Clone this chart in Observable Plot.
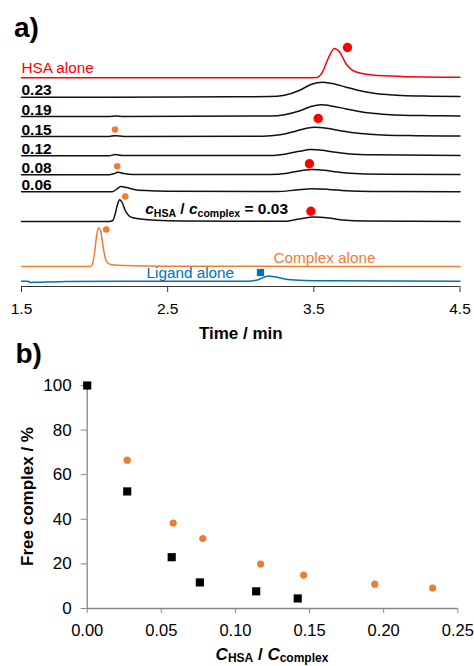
<!DOCTYPE html>
<html><head><meta charset="utf-8">
<script src="https://cdn.jsdelivr.net/npm/d3@7"></script>
<script src="https://cdn.jsdelivr.net/npm/@observablehq/plot@0.6"></script>
<style>
body{margin:0;background:#fff;font-family:"Liberation Sans",Arial,sans-serif;}
#wrap{position:relative;width:474px;height:666px;overflow:hidden;}
#top{position:absolute;left:0;top:0;}
#bottom{position:absolute;left:0;top:340px;}
svg{display:block;}
</style></head><body><div id="wrap"><div id="top"></div><div id="bottom"></div></div>
<script>
// ---------- Panel a) chromatogram data ----------
const timeTicks = [1.5, 2.5, 3.5, 4.5];
const traceNames = ["HSA alone","0.23","0.19","0.15","0.12","0.08","0.06","0.03","Complex alone","Ligand alone"];
const traceOffsets = [208.7, 189.3, 170, 150, 130.7, 111.7, 94.7, 65, 20, 5.3];

const hsaAlone = [[1.5,0],[3.45,0],[3.52,0.4],[3.56,6],[3.6,20],[3.64,29.3],[3.68,25],[3.72,14],[3.76,8],[3.82,4.5],[3.9,2.8],[4.1,1.4],[4.5,0.6]];
const ratio023 = [[1.5,0],[2.6,0.2],[3.2,0.6],[3.3,2],[3.4,6.7],[3.48,12.7],[3.56,15],[3.64,13.3],[3.72,10],[3.8,7],[3.9,4.3],[4.0,2.6],[4.1,1.7],[4.3,1],[4.5,0.6]];
const ratio019 = [[1.5,0],[2.1,0],[2.14,0.5],[2.2,0],[3.2,0.5],[3.3,1.8],[3.4,5.5],[3.48,10],[3.55,11.7],[3.63,10.3],[3.72,7.6],[3.8,5.3],[3.9,3.2],[4.0,2],[4.1,1.3],[4.3,0.8],[4.5,0.5]];
const ratio015 = [[1.5,0],[2.1,0],[2.14,0.8],[2.2,0.1],[3.15,0.3],[3.27,1.8],[3.37,5],[3.45,8.3],[3.51,9.3],[3.59,8.2],[3.68,5.8],[3.77,3.7],[3.88,2.2],[4.0,1.3],[4.2,0.8],[4.5,0.4]];
const ratio012 = [[1.5,0],[2.1,0],[2.14,1.3],[2.19,0.3],[3.2,0.3],[3.3,1.6],[3.4,4.5],[3.48,6.3],[3.56,5.5],[3.65,3.5],[3.75,1.9],[3.9,1],[4.5,0.3]];
const ratio008 = [[1.5,0],[2.1,0],[2.13,1],[2.16,2.6],[2.2,1.3],[2.26,0.4],[3.2,0.3],[3.32,1.6],[3.42,4.3],[3.49,5.3],[3.57,4.6],[3.66,2.8],[3.78,1.3],[3.95,0.6],[4.5,0.2]];
const ratio006 = [[1.5,0],[2.12,0],[2.15,2.5],[2.18,5.3],[2.22,4.2],[2.27,2.4],[2.35,1.2],[2.5,0.5],[3.25,0.3],[3.38,1.8],[3.49,3],[3.6,2.4],[3.72,1.1],[3.9,0.4],[4.5,0.1]];
const ratio003 = [[1.5,0],[2.1,0],[2.125,1],[2.14,7],[2.155,16],[2.172,21.7],[2.19,18.5],[2.21,11],[2.235,5.8],[2.27,3.4],[2.33,2.3],[2.42,1.3],[2.6,0.5],[3.3,0.3],[3.4,2.5],[3.5,4.5],[3.6,3.5],[3.7,1.5],[3.85,0.5],[4.5,0]];
const complexAlone = [[1.5,0],[1.97,0],[1.985,2],[2.0,14],[2.015,32],[2.03,38.7],[2.045,33],[2.06,18],[2.075,7.5],[2.09,3.5],[2.12,1.8],[2.2,0.9],[2.5,0.3],[4.5,0]];
const ligandAlone = [[1.5,0],[1.545,0],[1.56,-1.3],[1.6,-1],[1.8,-0.4],[2.2,0],[3.05,0],[3.12,1.5],[3.19,5.3],[3.24,4.2],[3.3,2.3],[3.4,1],[3.6,0.4],[4.5,0]];
const traceData = [hsaAlone, ratio023, ratio019, ratio015, ratio012, ratio008, ratio006, ratio003, complexAlone, ligandAlone];

// markers: [trace name, time, height above that trace's baseline]
const redMarkers = [["HSA alone",3.73,30.3],["0.15",3.53,18],["0.08",3.47,11],["0.03",3.48,10.3]];
const orangeMarkers = [["0.15",2.14,7],["0.08",2.155,8.6],["0.06",2.21,-4.7],["Complex alone",2.08,37]];
const blueMarkers = [["Ligand alone",3.135,8.7]];

// ---------- Panel b) data ----------
const ratioSquares = [0, 0.027, 0.057, 0.076, 0.114, 0.142];
const freeSquares = [100, 52.5, 23, 11.7, 7.7, 4.5];
const ratioCircles = [0.027, 0.058, 0.078, 0.117, 0.146, 0.194, 0.233];
const freeCircles = [66.5, 38.3, 31.4, 19.9, 15, 10.9, 9.2];
const ratioTicks = [0, 0.05, 0.10, 0.15, 0.20, 0.25];
const freeTicks = [0, 20, 40, 60, 80, 100];

// ---------- build tables ----------
const offsetOf = Object.fromEntries(traceNames.map((n,i)=>[n, traceOffsets[i]]));
const rows = [];
traceNames.forEach((n,i)=> traceData[i].forEach(([t,s])=> rows.push({name:n, t, v: traceOffsets[i]+s})));
const markerRows = arr => arr.map(([n,t,h])=>({name:n, t, v: offsetOf[n]+h}));
const colorOf = n => n==="HSA alone" ? "#FF0000" : n==="Complex alone" ? "#ED7D31" : n==="Ligand alone" ? "#0070C0" : "#111111";
const ratioLabels = traceNames.filter(n => /^0\.\d+$/.test(n) && n!=="0.03").map(n=>({name:n, v: offsetOf[n]}));

const FONT = "'Liberation Sans', Arial, sans-serif";

const topPlot = Plot.plot({
  width: 474, height: 340,
  marginTop: 5, marginBottom: 54, marginLeft: 21, marginRight: 14.5,
  x: {domain: [1.5, 4.5], label: null},
  y: {domain: [0, 281], axis: null},
  style: {fontFamily: FONT, background: "white", overflow: "visible", color: "#000"},
  marks: [
    Plot.ruleY([0], {stroke: "#333", strokeWidth: 1.2}),
    Plot.axisX(timeTicks, {tickSize: 6, tickPadding: 10, tickFormat: d => d.toFixed(1), fontSize: 15.5, stroke: "#333", label: null}),
    Plot.line(rows, {x: "t", y: "v", z: "name", stroke: d => colorOf(d.name), strokeWidth: 1.5, curve: "monotone-x"}),
    Plot.text(ratioLabels, {x: 1.5, y: "v", text: "name", textAnchor: "start", lineAnchor: "bottom", dy: -2, fontSize: 15.5, fontWeight: "bold", fill: "#000"}),
    Plot.text([{name:"HSA alone", v: offsetOf["HSA alone"]}], {x: 1.5, y: "v", text: "name", textAnchor: "start", lineAnchor: "bottom", dy: -5, fontSize: 15.3, fill: "#FF0000"}),
    Plot.text([{name:"Complex alone", v: offsetOf["Complex alone"]}], {x: 3.224, y: "v", text: "name", textAnchor: "start", lineAnchor: "bottom", dy: -3.3, fontSize: 15.3, fill: "#ED7D31"}),
    Plot.text([{name:"Ligand alone", v: offsetOf["Ligand alone"]}], {x: 2.355, y: "v", text: "name", textAnchor: "start", lineAnchor: "bottom", dy: -3, fontSize: 15.3, fill: "#0070C0"}),
    Plot.dot(markerRows(redMarkers), {x: "t", y: "v", r: 4.7, fill: "#FF0000", stroke: null}),
    Plot.dot(markerRows(orangeMarkers), {x: "t", y: "v", r: 3.3, fill: "#ED7D31", stroke: null}),
    Plot.dot(markerRows(blueMarkers), {x: "t", y: "v", r: 4.1, symbol: "square", fill: "#0070C0", stroke: null}),
    Plot.text(["Time / min"], {frameAnchor: "bottom", lineAnchor: "bottom", dy: 52, fontSize: 17, fontWeight: "bold", fill: "#000"}),
    Plot.text(["a)"], {frameAnchor: "top-left", textAnchor: "start", lineAnchor: "bottom", dx: -7.5, dy: 31, fontSize: 28, fontWeight: "bold", fill: "#000"})
  ]
});
document.getElementById("top").appendChild(topPlot);

function richText(svg, x, y, parts, size, subSize, subShift, anchor, transform) {
  const t = d3.select(svg).append("text")
    .attr("x", x).attr("y", y)
    .attr("text-anchor", anchor)
    .attr("font-family", FONT)
    .attr("font-size", size).attr("font-weight", "bold").attr("fill", "#000")
    .style("white-space", "pre");
  if (transform) t.attr("transform", transform);
  let shift = 0;
  parts.forEach(p => {
    const s = t.append("tspan").text(p.text);
    const want = p.sub ? subShift : 0;
    if (want !== shift) { s.attr("dy", want - shift); shift = want; }
    if (p.italic) s.attr("font-style", "italic");
    if (p.sub) s.attr("font-size", subSize);
  });
  return t;
}

const xs = topPlot.scale("x"), ys = topPlot.scale("y");
richText(topPlot, xs.apply(2.35), ys.apply(offsetOf["0.03"] + 7.5), [
  {text: "c", italic: true}, {text: "HSA", sub: true}, {text: " / "},
  {text: "c", italic: true}, {text: "complex", sub: true}, {text: " = 0.03"}
], 15.5, 10.5, 3, "start");

const bottomPlot = Plot.plot({
  width: 474, height: 326,
  marginTop: 45, marginBottom: 58, marginLeft: 86.7, marginRight: 16.7,
  x: {domain: [0, 0.25], label: null},
  y: {domain: [0, 100], label: null},
  style: {fontFamily: FONT, background: "white", overflow: "visible", color: "#000"},
  marks: [
    Plot.ruleY([0], {stroke: "#868686", strokeWidth: 1.3}),
    Plot.ruleX([0], {stroke: "#868686", strokeWidth: 1.3}),
    Plot.axisX(ratioTicks, {tickSize: 5, tickPadding: 11, tickFormat: d => d.toFixed(2), fontSize: 16.5, stroke: "#868686", label: null}),
    Plot.axisY(freeTicks, {tickSize: 6, tickPadding: 9.5, fontSize: 17, stroke: "#868686", label: null}),
    Plot.dot(ratioCircles.map((r,i)=>({r, f: freeCircles[i]})), {x: "r", y: "f", r: 3.6, fill: "#ED7D31", stroke: null}),
    Plot.dot(ratioSquares.map((r,i)=>({r, f: freeSquares[i]})), {x: "r", y: "f", r: 4.6, symbol: "square", fill: "#000", stroke: null}),
    Plot.text(["b)"], {frameAnchor: "top-left", textAnchor: "start", lineAnchor: "bottom", dx: -71.7, dy: -23, fontSize: 28, fontWeight: "bold", fill: "#000"})
  ]
});
document.getElementById("bottom").appendChild(bottomPlot);
const bx = bottomPlot.scale("x"), by = bottomPlot.scale("y");
// rotated y-axis title, centred on the y scale's middle
richText(bottomPlot, 0, 0, [{text: "Free complex / %"}], 17, 17, 0, "middle",
  `translate(32.5,${by.apply(50)}) rotate(-90)`);
richText(bottomPlot, bx.apply(0.125), 320, [
  {text: "C", italic: true}, {text: "HSA", sub: true}, {text: " / "},
  {text: "C", italic: true}, {text: "complex", sub: true}
], 17, 12, 2, "middle");
</script>
</body></html>
